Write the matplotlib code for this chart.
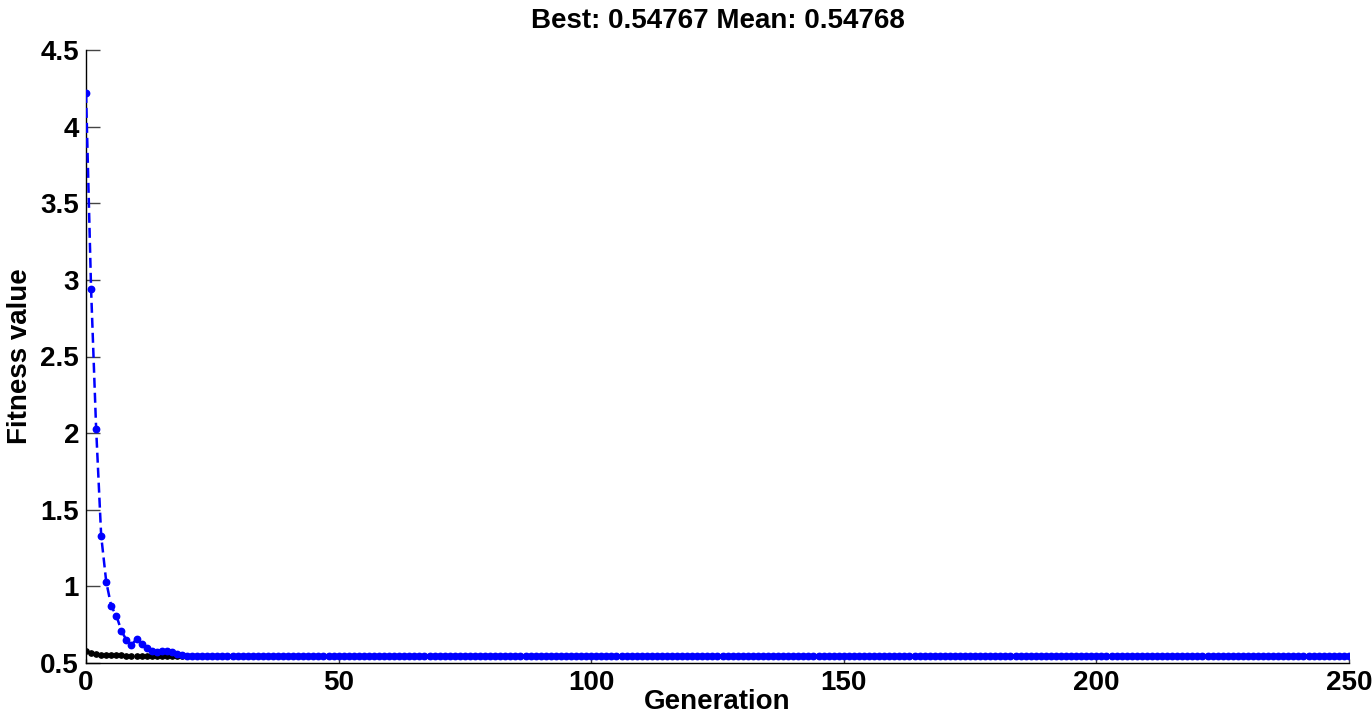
import matplotlib.pyplot as plt

plt.rcParams['font.family'] = ['Liberation Sans', 'DejaVu Sans']
plt.rcParams['font.weight'] = 'bold'

# mean fitness per generation (early generations, then the converged tail)
mean_head = [4.22, 2.94, 2.03, 1.33, 1.03, 0.87, 0.81, 0.71, 0.65, 0.62,
             0.655, 0.626, 0.596, 0.578, 0.57, 0.578, 0.578, 0.57, 0.557, 0.553,
             0.549, 0.549, 0.549, 0.548, 0.549, 0.548, 0.548, 0.549, 0.548, 0.548,
             0.548, 0.5478, 0.5478, 0.5477, 0.5477]
mean_tail = [0.54768] * (251 - len(mean_head))
mean_vals = mean_head + mean_tail

# best fitness per generation
best_head = [0.580, 0.566, 0.557, 0.553, 0.552, 0.551, 0.551, 0.550, 0.549, 0.549,
             0.549, 0.548, 0.548, 0.548, 0.548, 0.548, 0.5478, 0.5478, 0.5477, 0.5477]
best_tail = [0.54767] * (251 - len(best_head))
best_vals = best_head + best_tail

generations = list(range(251))

fig = plt.figure(figsize=(13.72, 7.13), dpi=100)
ax = fig.add_axes([0.0627, 0.0701, 0.9205, 0.8598])

ax.plot(generations, best_vals, linestyle='none', marker='o', markersize=3.8,
        color='black', zorder=2)
ax.plot(generations, mean_vals, linestyle='--', linewidth=1.8, marker='o',
        markersize=4.6, color='#0000ff', zorder=3, dashes=(4, 2))

ax.set_xlim(0, 250)
ax.set_ylim(0.5, 4.5)
ax.set_xticks([0, 50, 100, 150, 200, 250])
ax.set_yticks([0.5, 1, 1.5, 2, 2.5, 3, 3.5, 4, 4.5])
ax.set_yticklabels(['0.5', '1', '1.5', '2', '2.5', '3', '3.5', '4', '4.5'])

ax.spines['top'].set_visible(False)
ax.spines['right'].set_visible(False)
for s in ('left', 'bottom'):
    ax.spines[s].set_linewidth(1.0)

ax.tick_params(axis='y', direction='in', length=10, width=1, color='#444444',
               labelsize=20, pad=5)
ax.tick_params(axis='x', direction='in', length=3, width=1, color='#444444',
               labelsize=20, pad=5)
for lbl in ax.get_xticklabels() + ax.get_yticklabels():
    lbl.set_fontweight('bold')

ax.set_title('Best: 0.54767 Mean: 0.54768', fontsize=20, fontweight='bold', pad=16)
ax.set_xlabel('Generation', fontsize=20, fontweight='bold', labelpad=-5)
ax.set_ylabel('Fitness value', fontsize=20, fontweight='bold', labelpad=5)

plt.savefig('out.png', dpi=100)
